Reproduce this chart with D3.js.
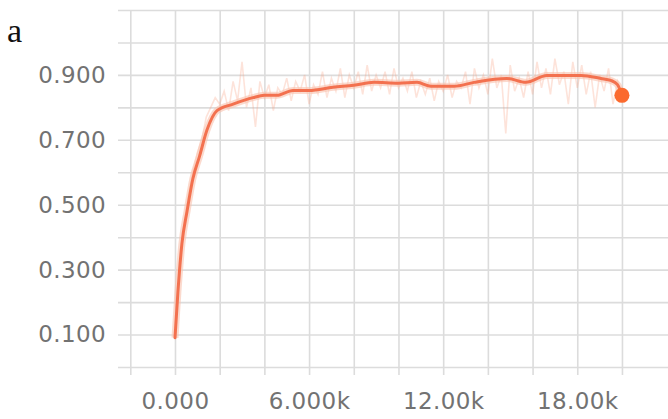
<!DOCTYPE html>
<html>
<head>
<meta charset="utf-8">
<script src="https://cdn.jsdelivr.net/npm/d3@7"></script>
<style>
  html, body { margin: 0; padding: 0; background: #fff; }
  svg { display: block; }
</style>
</head>
<body>
<svg id="chart" width="668" height="419"></svg>
<script>
// ---- data ----
const panelLabel = "a";
const yTickLabels = [0.1, 0.3, 0.5, 0.7, 0.9];
const xTickLabels = [0, 6000, 12000, 18000];
const xGrid = [-2000, 0, 2000, 4000, 6000, 8000, 10000, 12000, 14000, 16000, 18000, 20000];
const yGrid = [0, 0.1, 0.2, 0.3, 0.4, 0.5, 0.6, 0.7, 0.8, 0.9, 1.0, 1.1];

const smoothSteps = [0, 130, 310, 540, 800, 1100, 1430, 1880, 2600, 3490, 4000, 4560, 5280, 6000, 7070, 8000, 8900, 10000, 10830, 11450, 12480, 13380, 14850, 15700, 16640, 18170, 19060, 19500, 19800, 20000];
const smoothValues = [0.09, 0.23, 0.38, 0.48, 0.58, 0.65, 0.73, 0.79, 0.81, 0.83, 0.837, 0.837, 0.852, 0.852, 0.862, 0.868, 0.877, 0.874, 0.877, 0.865, 0.865, 0.877, 0.889, 0.877, 0.898, 0.898, 0.889, 0.883, 0.87, 0.837];

const rawSteps = [0, 200, 400, 600, 800, 1000, 1200, 1400, 1600, 1800, 2000, 2200, 2400, 2600, 2800, 3000, 3200, 3400, 3600, 3800, 4000, 4200, 4400, 4600, 4800, 5000, 5200, 5400, 5600, 5800, 6000, 6200, 6400, 6600, 6800, 7000, 7200, 7400, 7600, 7800, 8000, 8200, 8400, 8600, 8800, 9000, 9200, 9400, 9600, 9800, 10000, 10200, 10400, 10600, 10800, 11000, 11200, 11400, 11600, 11800, 12000, 12200, 12400, 12600, 12800, 13000, 13200, 13400, 13600, 13800, 14000, 14200, 14400, 14600, 14800, 15000, 15200, 15400, 15600, 15800, 16000, 16200, 16400, 16600, 16800, 17000, 17200, 17400, 17600, 17800, 18000, 18200, 18400, 18600, 18800, 19000, 19200, 19400, 19600, 19800, 20000];
const rawValues = [0.09, 0.30, 0.44, 0.53, 0.60, 0.66, 0.70, 0.77, 0.80, 0.83, 0.81, 0.85, 0.79, 0.88, 0.82, 0.94, 0.80, 0.86, 0.74, 0.88, 0.83, 0.87, 0.79, 0.86, 0.84, 0.89, 0.82, 0.88, 0.85, 0.90, 0.81, 0.87, 0.84, 0.91, 0.83, 0.89, 0.85, 0.92, 0.83, 0.90, 0.86, 0.91, 0.84, 0.93, 0.85, 0.90, 0.86, 0.91, 0.84, 0.92, 0.86, 0.89, 0.85, 0.91, 0.83, 0.88, 0.84, 0.89, 0.82, 0.88, 0.85, 0.90, 0.83, 0.88, 0.86, 0.91, 0.81, 0.92, 0.86, 0.90, 0.84, 0.95, 0.86, 0.90, 0.72, 0.93, 0.85, 0.89, 0.83, 0.91, 0.84, 0.94, 0.86, 0.92, 0.84, 0.95, 0.87, 0.91, 0.81, 0.94, 0.86, 0.93, 0.84, 0.91, 0.80, 0.90, 0.85, 0.92, 0.81, 0.88, 0.84];

// ---- layout ----
const svg = d3.select("#chart");
const mLeft = 118, mRight = 668, mTop = 10, mBottom = 367;

const x = d3.scaleLinear().domain([-2550, 22060]).range([mLeft, mRight]);
const y = d3.scaleLinear().domain([0, 1.1]).range([mBottom, mTop]);

const gridColor = "#dcdcdc";
const textColor = "#727272";
const font = "'DejaVu Sans', sans-serif";

// vertical grid lines (extending below the axis as ticks)
const gx = svg.append("g")
  .attr("transform", `translate(0,${mBottom + 8})`)
  .call(d3.axisBottom(x).tickValues(xGrid).tickSize(-(mBottom + 8 - mTop)).tickFormat(""));
gx.select(".domain").remove();
gx.selectAll("line").attr("stroke", gridColor).attr("stroke-width", 1.6);

// horizontal grid lines
const gy = svg.append("g")
  .attr("transform", `translate(${mLeft},0)`)
  .call(d3.axisLeft(y).tickValues(yGrid).tickSize(-(mRight - mLeft)).tickFormat(""));
gy.select(".domain").remove();
gy.selectAll("line").attr("stroke", gridColor).attr("stroke-width", 1.6);

// y labels
const yl = svg.append("g")
  .attr("transform", `translate(106,0)`)
  .call(d3.axisLeft(y).tickValues(yTickLabels).tickSize(0).tickPadding(0).tickFormat(d3.format(".3f")));
yl.select(".domain").remove();
yl.selectAll("text").attr("fill", textColor).attr("font-family", font)
  .attr("font-size", 23).attr("letter-spacing", 0.4);

// x labels
const fmtX = d => d === 0 ? "0.000" : (d < 10000 ? d3.format(".3f")(d / 1000) + "k" : d3.format(".2f")(d / 1000) + "k");
const xl = svg.append("g")
  .attr("transform", `translate(0,${mBottom})`)
  .call(d3.axisBottom(x).tickValues(xTickLabels).tickSize(0).tickPadding(26).tickFormat(fmtX));
xl.select(".domain").remove();
xl.selectAll("text").attr("fill", textColor).attr("font-family", font)
  .attr("font-size", 23).attr("letter-spacing", 0.4);

// raw series (faint)
const raw = rawSteps.map((s, i) => [s, rawValues[i]]);
svg.append("path")
  .datum(raw)
  .attr("fill", "none")
  .attr("stroke", "#f7a386")
  .attr("stroke-opacity", 0.3)
  .attr("stroke-width", 1.6)
  .attr("d", d3.line().x(d => x(d[0])).y(d => y(d[1])));

// smoothed series
const smooth = smoothSteps.map((s, i) => [s, smoothValues[i]]);
svg.append("path")
  .datum(smooth)
  .attr("fill", "none")
  .attr("stroke", "#f9c2ad")
  .attr("stroke-opacity", 0.6)
  .attr("stroke-width", 7)
  .attr("stroke-linejoin", "round")
  .attr("d", d3.line().curve(d3.curveMonotoneX).x(d => x(d[0])).y(d => y(d[1])));
svg.append("path")
  .datum(smooth)
  .attr("fill", "none")
  .attr("stroke", "#f3714f")
  .attr("stroke-width", 3)
  .attr("stroke-linejoin", "round")
  .attr("stroke-linecap", "round")
  .attr("d", d3.line().curve(d3.curveMonotoneX).x(d => x(d[0])).y(d => y(d[1])));

// last point marker
const last = smooth[smooth.length - 1];
svg.append("circle")
  .attr("cx", x(last[0])).attr("cy", y(last[1])).attr("r", 7.5)
  .attr("fill", "#fb6a2e");

// panel label
svg.append("text")
  .attr("x", 7).attr("y", 42)
  .attr("font-family", "'Liberation Serif', 'DejaVu Serif', serif")
  .attr("font-size", 34).attr("fill", "#111")
  .text(panelLabel);
</script>
</body>
</html>
